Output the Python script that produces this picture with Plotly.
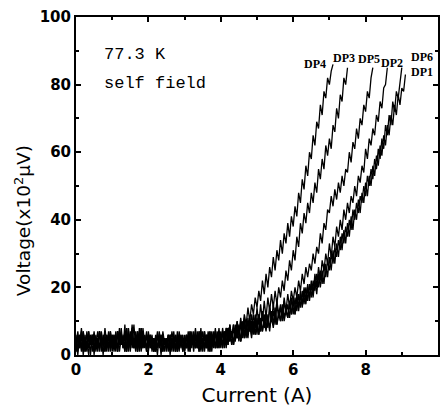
import numpy as np
import plotly.graph_objects as go

# Current grid (A): one reading every 0.05 A, starting at 0 A
step = 0.05

# Voltage (x10^2 uV), 20 readings per ampere
dp4 = [1,6,2,7,1,5,3,7,0,6,2,6,1,7,3,5,1,6,2,7,
       2,6,1,7,3,8,2,6,1,8,3,9,2,7,1,8,2,6,3,7,
       1,6,2,5,1,6,3,6,1,5,2,6,0,5,2,6,1,5,3,6,
       2,6,1,7,3,6,2,5,1,7,3,7,2,6,1,7,3,8,2,7,
       3,8,4,7,3,9,5,9,4,10,6,11,7,12,9,14,10,15,12,17,
       14,19,16,22,18,24,20,26,23,29,25,31,28,34,30,36,33,39,35,41,
       38,44,41,48,45,52,49,56,53,60,58,65,62,69,67,74,71,78,76,82,
       80,84,86]
dp3 = [5,1,6,2,7,1,4,0,6,3,7,2,5,1,6,2,8,3,6,1,
       5,2,7,1,6,3,5,1,8,2,6,3,9,2,7,1,6,2,5,1,
       6,2,5,1,4,0,6,2,7,3,5,1,6,2,5,1,7,2,6,1,
       5,2,7,1,6,3,8,2,7,1,5,2,6,3,7,1,6,2,5,2,
       6,2,7,3,8,4,7,3,9,5,8,4,10,6,9,6,11,7,12,8,
       14,9,15,10,16,11,17,13,18,14,19,15,20,17,22,19,25,22,28,25,
       31,28,35,32,39,36,42,39,45,42,48,45,51,48,55,52,58,55,62,59,
       64,61,68,66,73,70,77,75,82,80,85]
dp5 = [3,7,2,6,0,5,2,7,3,6,1,5,2,7,3,5,1,6,2,7,
       3,6,2,7,1,5,3,7,2,6,1,8,2,6,3,7,1,5,2,6,
       2,6,1,5,3,7,2,6,1,5,3,6,2,5,1,6,2,7,3,5,
       1,6,2,7,3,6,2,7,1,5,3,7,2,6,1,6,3,7,2,6,
       3,7,2,8,4,7,3,9,5,8,4,10,6,9,5,11,7,10,6,12,
       8,12,7,13,9,12,8,14,10,15,11,16,12,15,11,17,13,18,14,19,
       16,20,17,22,19,24,21,26,23,27,25,30,27,32,30,36,33,39,37,43,
       42,47,44,49,46,51,48,53,50,55,54,60,57,63,61,67,64,70,68,74,
       72,78,76,82,85]
dp2 = [6,2,5,1,7,3,6,2,5,1,6,3,7,2,5,0,6,2,7,3,
       6,2,5,1,7,3,6,2,8,1,6,3,5,2,7,3,8,2,6,1,
       5,3,6,1,5,2,7,3,6,1,5,2,6,3,5,1,6,2,5,1,
       6,2,5,3,7,1,6,2,5,3,7,2,6,1,5,3,7,2,6,2,
       7,3,6,2,8,4,7,3,8,5,9,4,8,5,10,6,9,5,10,6,
       11,6,10,7,12,8,11,7,13,9,14,9,13,10,15,11,14,11,16,12,
       17,12,18,14,19,15,20,16,21,17,22,18,24,20,26,22,28,25,30,27,
       33,29,35,32,38,35,40,37,43,40,45,42,47,45,50,47,53,51,56,54,
       61,58,64,62,67,65,71,69,75,73,79,80,85]
dp6 = [1,5,3,8,2,6,1,5,3,6,0,5,2,7,1,6,3,5,1,6,
       1,5,2,7,3,6,2,9,1,5,3,7,2,6,1,5,2,8,3,6,
       3,6,2,5,1,6,3,5,2,5,1,6,2,7,3,5,1,6,2,5,
       1,6,3,5,2,7,2,6,3,8,1,6,2,7,3,6,2,7,3,8,
       2,7,4,8,3,9,5,8,4,10,6,9,5,11,6,10,7,12,8,11,
       6,12,7,13,8,12,9,14,10,13,9,15,11,14,10,16,12,15,11,17,
       12,17,13,18,14,19,15,20,16,21,17,22,19,24,20,25,21,27,23,28,
       25,30,27,32,29,34,31,36,33,38,35,40,37,43,40,45,42,47,45,50,
       47,53,50,55,52,58,55,61,58,64,61,68,65,71,68,75,72,78,76,81,
       85]
dp1 = [4,0,6,2,5,1,7,2,5,3,6,1,5,2,7,3,5,1,6,2,
       6,1,5,2,8,3,5,1,6,3,7,2,5,1,6,2,8,3,5,2,
       7,2,5,1,6,2,5,0,6,3,5,2,6,1,7,2,5,1,6,2,
       5,2,6,1,5,3,6,2,7,3,5,1,6,2,7,3,6,2,7,3,
       6,2,7,3,8,4,7,3,8,5,7,4,9,5,8,5,10,6,9,6,
       10,6,11,7,10,7,12,8,11,8,13,9,12,10,14,10,13,11,15,12,
       16,12,17,13,18,14,19,15,20,16,21,17,22,18,24,20,25,21,27,23,
       29,25,31,27,33,29,35,31,37,33,39,35,41,37,43,40,46,42,48,45,
       51,47,53,50,56,53,59,56,62,59,65,62,68,65,71,68,74,71,77,74,
       79,78,83]

series = {"DP4": dp4, "DP3": dp3, "DP5": dp5, "DP2": dp2, "DP6": dp6, "DP1": dp1}

# Curve labels (name, current, voltage)
label_names = ["DP4", "DP3", "DP5", "DP2", "DP6", "DP1"]
label_x = [6.59, 7.39, 8.09, 8.74, 9.56, 9.56]
label_y = [86.2, 88.0, 87.7, 86.3, 88.2, 83.8]

x_ticks = [0, 2, 4, 6, 8, 10]
y_ticks = [0, 20, 40, 60, 80, 100]

fig = go.Figure()
for name, vals in series.items():
    xs = np.round(np.arange(len(vals)) * step, 3)
    fig.add_trace(go.Scatter(x=xs, y=vals, mode="lines", name=name,
                             line=dict(color="black", width=1.3), showlegend=False))

for n, lx, ly in zip(label_names, label_x, label_y):
    fig.add_annotation(x=lx, y=ly, text=n, showarrow=False, borderpad=0,
                       font=dict(family="Liberation Serif", size=12, color="black",
                                 weight="bold"))

fig.add_annotation(x=0.71, y=88.8, text="77.3 K", showarrow=False, xanchor="left",
                   font=dict(family="Liberation Mono", size=17, color="black"))
fig.add_annotation(x=0.71, y=80.3, text="self field", showarrow=False, xanchor="left",
                   font=dict(family="Liberation Mono", size=17, color="black"))

fig.add_annotation(xref="paper", yref="paper", x=-0.148, y=0.168,
                   xanchor="center", yanchor="bottom",
                   text="Voltage(x10<sup>2</sup>μV)", textangle=-90, showarrow=False,
                   font=dict(family="DejaVu Sans", size=18.5, color="black"))

axis_common = dict(showgrid=False, zeroline=False, showline=True, linecolor="black",
                   linewidth=2, mirror="allticks", ticks="inside", ticklen=5,
                   tickwidth=1.5, tickcolor="black",
                   tickfont=dict(family="DejaVu Sans", size=15, color="black", weight="bold"))

fig.update_xaxes(range=[0, 10], tickvals=x_ticks, ticktext=[str(v) for v in x_ticks],
                 minor=dict(dtick=1, tick0=0, ticks="inside", ticklen=3, tickcolor="black"),
                 title=dict(text="Current (A)", standoff=10,
                            font=dict(family="DejaVu Sans", size=20, color="black")),
                 **axis_common)
fig.update_yaxes(range=[0, 100], tickvals=y_ticks, ticktext=[str(v) for v in y_ticks],
                 minor=dict(dtick=10, tick0=0, ticks="inside", ticklen=3, tickcolor="black"),
                 **axis_common)

fig.update_layout(width=448, height=414, margin=dict(l=76, r=8, t=15, b=59),
                  paper_bgcolor="white", plot_bgcolor="white")

fig.write_html("out.html")
